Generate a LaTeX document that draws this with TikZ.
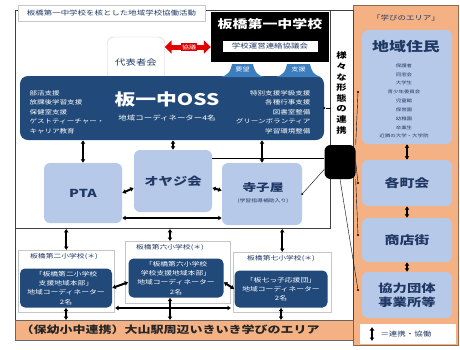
\documentclass[tikz,border=0pt]{standalone}
\usepackage{fontspec}
\setmainfont[FakeStretch=1.3]{Noto Sans CJK JP}
\usetikzlibrary{arrows.meta,shapes.geometric}
\definecolor{ossblue}{RGB}{33,74,122}
\definecolor{lblue}{RGB}{183,201,232}
\definecolor{orng}{RGB}{244,177,131}
\definecolor{dtext}{RGB}{31,56,100}
\definecolor{arcblue}{RGB}{60,125,190}
\newcommand\fsz[2]{\fontsize{#1}{#2}\selectfont}
\tikzset{
 lbox/.style={fill=lblue, rounded corners=6pt, text=dtext, align=center, inner sep=1pt},
 dbox/.style={fill=ossblue, rounded corners=5pt, text=white, align=center, inner sep=1pt},
 dbl/.style={{Latex[length=3.5pt,width=5pt]}-{Latex[length=3.5pt,width=5pt]}, line width=2pt},
 tline/.style={line width=0.4pt, draw=black},
 pdot/.style={circle, fill=black, inner sep=0pt, minimum size=2.2pt},
 frm/.style={draw=gray!45, fill=white, line width=0.5pt},
}
\begin{document}
\begin{tikzpicture}[x=1pt,y=-1pt]
\useasboundingbox (0,0) rectangle (460,349);
\fill[white] (0,0) rectangle (460,349);
% right panel
\node[fill=orng, draw=orng!60!black, line width=0.6pt, minimum width=105pt, minimum height=340pt, anchor=north west, inner sep=0pt] (panel) at (353,5) {};
\node[font=\fsz{6.5}{8}, text=dtext] (area) at (406,18) {「学びのエリア」};
\node[lbox, minimum width=90pt, minimum height=114pt] (res) at (407,87) {};
\node[font=\fsz{13}{15}\bfseries, text=dtext] (restitle) at (406,47) {地域住民};
\node[font=\fsz{4.2}{8.8}, text=dtext, align=center] (reslist) at (404,101) {保護者\\同窓会\\大学生\\青少年委員会\\児童館\\保育園\\幼稚園\\卒業生\\近隣の大学・大学院};
\node[lbox, minimum width=90pt, minimum height=46pt, font=\fsz{11.5}{13}\bfseries] (town) at (407,183) {各町会};
\node[lbox, minimum width=90pt, minimum height=44pt, font=\fsz{11.5}{13}\bfseries] (shop) at (407,240) {商店街};
\node[lbox, minimum width=90pt, minimum height=46pt, font=\fsz{11}{14}\bfseries] (coop) at (407,295) {協力団体\\事業所等};
\draw[dbl] (res.south) -- (town.north);
\draw[dbl] (town.south) -- (shop.north);
\draw[dbl] (shop.south) -- (coop.north);
\node[fill=white, minimum width=96pt, minimum height=20pt, inner sep=0pt] (legbg) at (408,334) {};
\coordinate (lega) at (372,327);
\coordinate (legb) at (372,341);
\draw[dbl, line width=1.5pt] (lega) -- (legb);
\node[font=\fsz{6.5}{8}, text=dtext, anchor=west] (legtxt) at (377,334) {＝連携・協働};
% frames
\node[draw=black!75, line width=0.8pt, minimum width=338pt, minimum height=330pt, anchor=north west, inner sep=0pt] (outer) at (15,10) {};
\node[draw=black!75, line width=0.8pt, minimum width=315pt, minimum height=218pt, anchor=north west, inner sep=0pt] (main) at (15,10) {};
% caption
\node[frm, minimum width=187pt, minimum height=16pt, inner sep=0pt, font=\fsz{6.5}{8}, text=dtext] (cap) at (111.5,13) {板橋第一中学校を核とした地域学校協働活動};
% school
\node[fill=black, minimum width=118pt, minimum height=50pt, inner sep=0pt] (school) at (270,37) {};
\node[font=\fsz{11.5}{13}\bfseries, text=white] (schoolname) at (270,24) {板橋第一中学校};
\node[fill=white, minimum width=95pt, minimum height=11pt, inner sep=0pt, font=\fsz{6.5}{7}, text=dtext] (council) at (270,46) {学校運営連絡協議会};
% representatives
\node[draw=gray!40, fill=white, rounded corners=6pt, minimum width=57pt, minimum height=50pt, font=\fsz{8}{9}, text=dtext] (rep) at (136,62) {代表者会};
% OSS
\node[dbox, minimum width=304pt, minimum height=64pt, rounded corners=8pt] (oss) at (172,108) {};
\fill[arcblue] (221,77) .. controls (229,75) and (231,70) .. (232,64) -- (253,64) .. controls (254,70) and (256,75) .. (264,77) -- cycle;
\fill[arcblue] (276,77) .. controls (284,75) and (286,70) .. (287,64) -- (310,64) .. controls (311,70) and (313,75) .. (321,77) -- cycle;
\node[text=white, font=\fsz{5.5}{6}] (yobo) at (242.5,69.5) {要望};
\node[text=white, font=\fsz{5.5}{6}] (shien) at (298.5,69.5) {支援};
\node[text=white, font=\fsz{16}{18}\bfseries] (ossname) at (167,99) {板一中OSS};
\node[text=white, font=\fsz{6.5}{8}] (osssub) at (167,118) {地域コーディネーター4名};
\node[text=white, font=\fsz{5.8}{9.5}, align=left, anchor=west] (ossl) at (26,112) {部活支援\\放課後学習支援\\保健室支援\\ゲストティーチャー・\\キャリア教育};
\node[text=white, font=\fsz{5.8}{9.5}, align=right, anchor=east] (ossr) at (314,112) {特別支援学級支援\\各種行事支援\\図書室整備\\グリーンボランティア\\学習環境整備};
% red arrow
\draw[red!90!black, line width=5pt, {Triangle[length=7pt,width=13pt]}-{Triangle[length=7pt,width=13pt]}] ([yshift=15pt]rep.east) -- ([yshift=-10pt]school.west);
\node[fill=red!85!black, text=white, font=\fsz{5.5}{6}, inner sep=1.2pt] (kyogi) at (189,47) {協議};
% middle boxes
\node[lbox, minimum width=78pt, minimum height=60pt, font=\fsz{11}{13}\bfseries] (pta) at (83,193) {PTA};
\node[lbox, minimum width=78pt, minimum height=62pt, font=\fsz{11}{13}\bfseries] (oyaji) at (173,181) {オヤジ会};
\node[lbox, minimum width=80pt, minimum height=62pt] (tera) at (262,194) {};
\node[font=\fsz{10.5}{12}\bfseries, text=dtext] (teraname) at (263,188) {寺子屋};
\node[font=\fsz{4.5}{5}, text=dtext] (terasub) at (263,201) {(学習指導補助入り)};
\draw[dbl] (pta.north |- oss.south) -- (pta.north);
\draw[dbl] (oyaji.north |- oss.south) -- (oyaji.north);
\draw[dbl] (tera.north |- oss.south) -- (tera.north);
\draw[dbl] (pta.east) -- (oyaji.190);
\draw[dbl] (oyaji.350) -- (tera.175);
\coordinate (pb) at ([yshift=-25pt]pta.east);
\draw[dbl] (pb) -- (pb -| tera.west);
% vertical text and hub
\node[font=\fsz{8}{10.6}\bfseries, align=center, text=black] (vt) at (341.5,93) {様\\々\\な\\形\\態\\の\\連\\携};
\node[fill=black, rounded corners=6pt, minimum width=31pt, minimum height=34pt, inner sep=0pt] (blob) at (340,162) {};
\coordinate (oyt) at ([yshift=-8pt]oyaji.north east);
\draw[tline] (oyt) -- (oyt -| blob.west);
\node[pdot] (tdot) at (tera.east) {};
\draw[tline] (tdot) -- (blob.205);
\node[pdot] (odot) at (oss.east) {};
\draw[tline] (odot) -- (odot -| main.east);
\node[pdot] (d1) at (358,92) {};
\node[pdot] (d2) at (358,183) {};
\node[pdot] (d3) at (358,235) {};
\node[pdot] (d4) at (358,290) {};
\draw[tline] (blob.north east) -- (d1);
\draw[tline] (blob.east) -- (d2);
\draw[tline] (blob.south east) -- (d3);
\draw[tline] (blob.south) -- (d4);
% schools
\node[frm, minimum width=96pt, minimum height=62pt, anchor=north west, inner sep=0pt] (f2) at (18,250) {};
\node[frm, minimum width=105pt, minimum height=62pt, anchor=north west, inner sep=0pt] (f6) at (125,241) {};
\node[frm, minimum width=98pt, minimum height=60pt, anchor=north west, inner sep=0pt] (f7) at (233,252) {};
\node[font=\fsz{6}{7}, text=dtext] (s2lab) at (64,256.5) {板橋第二小学校(＊)};
\node[font=\fsz{6}{7}, text=dtext] (s6lab) at (170,247.5) {板橋第六小学校(＊)};
\node[font=\fsz{6}{7}, text=dtext] (s7lab) at (281,259) {板橋第七小学校(＊)};
\node[dbox, minimum width=92pt, minimum height=39pt, font=\fsz{6}{9.3}] (s2) at (66,288) {「板橋第二小学校\\支援地域本部」\\地域コーディネーター\\2名};
\node[dbox, minimum width=95pt, minimum height=39pt, font=\fsz{6}{9.3}] (s6) at (176,278) {「板橋第六小学校\\学校支援地域本部」\\地域コーディネーター\\2名};
\node[dbox, minimum width=93pt, minimum height=37pt, font=\fsz{6}{9.3}] (s7) at (281,289) {「板七っ子応援団」\\地域コーディネーター\\2名};
\draw[dbl] (f2.north |- main.south) -- (f2.north);
\draw[dbl] (s6lab |- main.south) -- (s6lab |- f6.north);
\draw[dbl] (f7.north |- main.south) -- (f7.north);
\draw[dbl] (s2.east) -- (s6.185);
\draw[dbl] (s6.355) -- (s7.west);
\coordinate (h1) at (115,308);
\coordinate (h2) at (231,308);
\draw[dbl] (h1) -- (h2);
% band
\node[fill=orng, draw=black!60, line width=0.6pt, minimum width=338pt, minimum height=20pt, anchor=north west, inner sep=0pt] (band) at (15,320) {};
\node[font=\fsz{10}{12}\bfseries, text=black!85, anchor=west] (bandtxt) at (17,330) {（保幼小中連携）大山駅周辺いきいき学びのエリア};
\draw[dbl] (s2.south) -- (s2.south |- band.north);
\draw[dbl] (s6lab |- s6.south) -- (s6lab |- band.north);
\draw[dbl] (s7.south) -- (s7.south |- band.north);
\end{tikzpicture}
\end{document}
